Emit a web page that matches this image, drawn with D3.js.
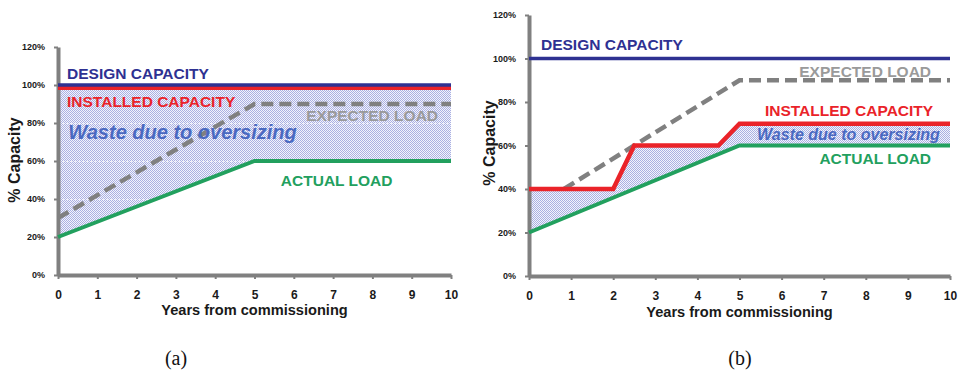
<!DOCTYPE html>
<html><head><meta charset="utf-8">
<script src="https://cdn.jsdelivr.net/npm/d3@7"></script>
<style>body{margin:0;background:#fff}svg{display:block}</style>
</head><body>
<svg id="c" width="962" height="375"></svg>
<script>
// ---------- data ----------
const years = [0,1,2,3,4,5,6,7,8,9,10];
const yTicks = [0,20,40,60,80,100,120];
const yTickLabels = ["0%","20%","40%","60%","80%","100%","120%"];
const xTitle = "Years from commissioning";
const yTitle = "% Capacity";
const captions = ["(a)","(b)"];

// panel (a)
const designA    = [[0,100],[10,100]];
const installedA = [[0,98.5],[10,98.5]];
const expectedA  = [[0,30],[5,90],[10,90]];
const actualA    = [[0,20],[5,60],[10,60]];

// panel (b)
const designB    = [[0,100],[10,100]];
const installedB = [[0,40],[2,40],[2.5,60],[4.5,60],[5,70],[10,70]];
const expectedB  = [[0.83,40],[5,90],[10,90]];
const actualB    = [[0,20],[5,60],[10,60]];

const labelNames = ["DESIGN CAPACITY","INSTALLED CAPACITY","EXPECTED LOAD","Waste due to oversizing","ACTUAL LOAD"];

// ---------- styles ----------
const C = {design:"#2e3192", installed:"#ea2329", expected:"#808080", expectedText:"#9a9a9a",
           waste:"#4a69c1", actual:"#22a05e", axis:"#808080"};
const sans = "'Liberation Sans', Arial, Helvetica, sans-serif";

const svg = d3.select("#c");
svg.append("rect").attr("width",962).attr("height",375).attr("fill","#fff");

const defs = svg.append("defs");
const pat = defs.append("pattern").attr("id","dots").attr("patternUnits","userSpaceOnUse")
  .attr("width",2).attr("height",2);
pat.append("rect").attr("width",2).attr("height",2).attr("fill","#f3f4fc");
pat.append("rect").attr("x",0).attr("y",0).attr("width",1).attr("height",1).attr("fill","#aab0e2");
pat.append("rect").attr("x",1).attr("y",1).attr("width",1).attr("height",1).attr("fill","#aab0e2");

const panels = [
  {xr:[58,451], yr:[275,47], design:designA, installed:installedA, expected:expectedA, actual:actualA,
   yTitlePos:[14,160], xTitleY:315, caption:[176,365],
   labels:[
     {i:0, x:0.23, y:103.2, a:"start", fs:15.5, c:C.design},
     {i:1, x:0.23, y:88.4,  a:"start", fs:15.5, c:C.installed},
     {i:2, x:9.67, y:81.0,  a:"end",   fs:15.5, c:C.expectedText},
     {i:3, x:0.26, y:71.6,  a:"start", fs:20,   c:C.waste, it:true},
     {i:4, x:5.67, y:46.8,  a:"start", fs:15.5, c:C.actual}
   ]},
  {xr:[529,950], yr:[276,15], design:designB, installed:installedB, expected:expectedB, actual:actualB,
   yTitlePos:[489,143], xTitleY:317, caption:[740,365],
   labels:[
     {i:0, x:0.285, y:103.9, a:"start", fs:15.5, c:C.design},
     {i:1, x:9.6,   y:73.6,  a:"end",   fs:15.5, c:C.installed},
     {i:2, x:9.55,  y:91.5,  a:"end",   fs:15.5, c:C.expectedText},
     {i:3, x:9.76,  y:62.5,  a:"end",   fs:16,   c:C.waste, it:true},
     {i:4, x:9.55,  y:51.3,  a:"end",   fs:15.5, c:C.actual}
   ]}
];

panels.forEach((p, k) => {
  const x = d3.scaleLinear().domain([0,10]).range(p.xr);
  const y = d3.scaleLinear().domain([0,120]).range(p.yr);
  const line = d3.line().x(d => x(d[0])).y(d => y(d[1]));
  const g = svg.append("g");

  // shaded waste area: installed (top) forward, actual reversed
  const poly = p.installed.concat(p.actual.slice().reverse());
  g.append("path").attr("d", line(poly) + "Z").attr("fill","url(#dots)");

  // faint white grid lines over shading
  g.append("g").selectAll("line").data(yTicks.filter(t => t>0 && t<120)).join("line")
    .attr("x1", x(0)).attr("x2", x(10)).attr("y1", d => y(d)+0.5).attr("y2", d => y(d)+0.5)
    .attr("stroke","#fff").attr("stroke-width",1).attr("stroke-dasharray","2,2").attr("opacity",0.7);

  // axes
  const ax = g.append("g").attr("transform",`translate(0,${y(0)})`)
    .call(d3.axisBottom(x).tickValues(years).tickFormat(d3.format("d")).tickSizeInner(4).tickSizeOuter(0).tickPadding(11));
  const ay = g.append("g").attr("transform",`translate(${x(0)},0)`)
    .call(d3.axisLeft(y).tickValues(yTicks).tickFormat((d,i) => yTickLabels[i]).tickSizeInner(4).tickSizeOuter(0).tickPadding(9));
  [ax, ay].forEach(a => {
    a.select(".domain").attr("stroke", C.axis).attr("stroke-width",4);
    a.selectAll(".tick line").attr("stroke", C.axis).attr("stroke-width",2);
    a.selectAll(".tick text").attr("fill","#1a1a1a").attr("font-family",sans).attr("font-weight","bold");
  });
  ax.selectAll(".tick text").attr("font-size",12);
  ay.selectAll(".tick text").attr("font-size",9);

  // lines
  g.append("path").attr("d", line(p.expected)).attr("fill","none").attr("stroke",C.expected)
    .attr("stroke-width",4.5).attr("stroke-dasharray","12,6");
  g.append("path").attr("d", line(p.actual)).attr("fill","none").attr("stroke",C.actual).attr("stroke-width",4);
  g.append("path").attr("d", line(p.installed)).attr("fill","none").attr("stroke",C.installed).attr("stroke-width",4.5);
  g.append("path").attr("d", line(p.design)).attr("fill","none").attr("stroke",C.design).attr("stroke-width",3.5);

  // labels
  p.labels.forEach(l => {
    g.append("text").attr("x", x(l.x)).attr("y", y(l.y)).attr("text-anchor", l.a)
      .attr("font-family", sans).attr("font-weight","bold").attr("font-size", l.fs)
      .attr("font-style", l.it ? "italic" : "normal").attr("fill", l.c).text(labelNames[l.i]);
  });

  // axis titles
  g.append("text").attr("x",(p.xr[0]+p.xr[1])/2).attr("y",p.xTitleY).attr("text-anchor","middle")
    .attr("font-family",sans).attr("font-weight","bold").attr("font-size",14.6).attr("fill","#1a1a1a").text(xTitle);
  g.append("text").attr("transform",`translate(${p.yTitlePos[0]},${p.yTitlePos[1]}) rotate(-90)`)
    .attr("text-anchor","middle").attr("dominant-baseline","central")
    .attr("font-family",sans).attr("font-weight","bold").attr("font-size",16).attr("fill","#1a1a1a").text(yTitle);

  // caption
  g.append("text").attr("x",p.caption[0]).attr("y",p.caption[1]).attr("text-anchor","middle")
    .attr("font-family","'Liberation Serif', 'Times New Roman', serif").attr("font-size",20).attr("fill","#111")
    .text(captions[k]);
});
</script>
</body></html>
